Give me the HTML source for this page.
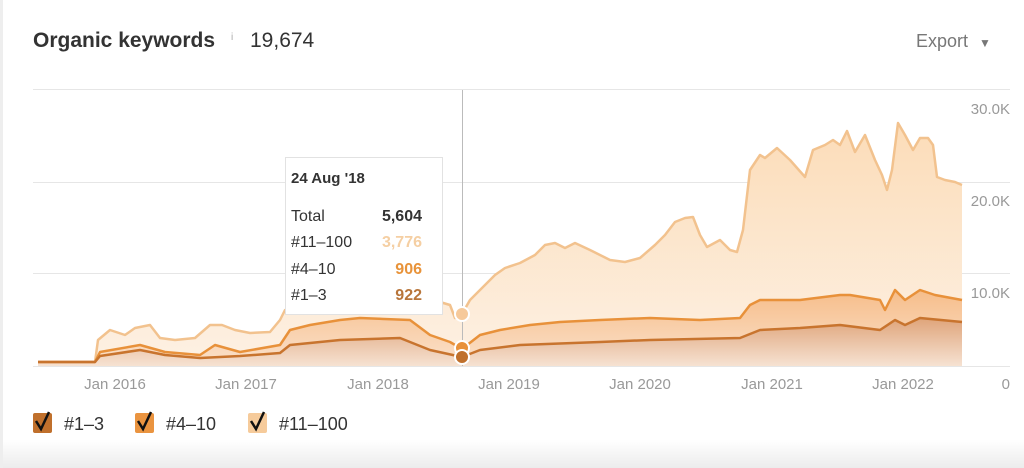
<!DOCTYPE html>
<html><head><meta charset="utf-8"><style>
body{margin:0;width:1024px;height:468px;background:#fff;font-family:"Liberation Sans",sans-serif;overflow:hidden;position:relative}
.t{position:absolute;white-space:nowrap}
</style></head><body>
<div style="position:absolute;left:0;top:440px;width:1024px;height:28px;background:linear-gradient(#fff,#ececec)"></div>
<div style="position:absolute;left:0;top:0;width:3px;height:468px;background:#eee"></div>
<div class="t" style="left:33px;top:29px;font-size:21px;font-weight:bold;color:#333">Organic keywords</div>
<div class="t" style="left:231px;top:32px;font-size:10px;color:#aaa">i</div>
<div class="t" style="left:250px;top:29px;font-size:21px;color:#333">19,674</div>
<div class="t" style="left:916px;top:31px;font-size:18px;color:#777">Export <span style="font-size:12px;margin-left:6px">▼</span></div>
<svg width="1024" height="468" style="position:absolute;left:0;top:0">
<defs>
<linearGradient id="g1" x1="0" y1="0" x2="0" y2="1"><stop offset="0" stop-color="#fcdcb8"/><stop offset="1" stop-color="#fdf1e4"/></linearGradient>
<linearGradient id="g2" x1="0" y1="0" x2="0" y2="1"><stop offset="0" stop-color="#f6bd8a"/><stop offset="1" stop-color="#fbe2cc"/></linearGradient>
<linearGradient id="g3" x1="0" y1="0" x2="0" y2="1"><stop offset="0" stop-color="#dfa47a"/><stop offset="1" stop-color="#f6e2d2"/></linearGradient>
</defs>
<g stroke="#e6e6e6" stroke-width="1">
<line x1="33" y1="89.5" x2="1010" y2="89.5"/><line x1="33" y1="182.5" x2="1010" y2="182.5"/><line x1="33" y1="273.5" x2="1010" y2="273.5"/><line x1="33" y1="366.5" x2="1010" y2="366.5"/>
</g>
<path id="p1" fill="url(#g1)" d="M38,362 L95,362 98,340 110,330 125,335 135,328 150,325 160,338 175,340 195,338 210,325 222,325 235,330 250,333 270,332 280,320 285,310 300,305 340,302 400,300 440,302 450,305 455,318 462,314 470,300 480,290 495,275 505,268 520,263 535,255 545,245 555,243 565,248 575,243 590,250 610,260 625,262 640,258 655,245 665,235 675,222 685,218 693,217 700,235 707,247 720,240 730,250 737,252 743,230 750,170 760,155 765,158 777,148 790,160 805,177 813,150 825,145 833,140 840,145 847,131 855,152 865,135 875,160 882,175 887,190 892,170 898,123 905,135 913,150 920,138 928,138 933,145 937,177 945,180 955,182 962,185 L962,366 L38,366Z"/>
<path fill="url(#g2)" d="M38,362 L95,362 100,352 140,345 165,352 200,355 215,345 240,352 280,345 290,330 310,325 340,320 360,318 410,320 430,335 450,342 462,349 480,335 500,330 530,325 560,322 600,320 650,318 700,320 740,318 750,305 760,300 800,300 840,295 850,295 880,300 885,310 895,290 905,300 920,290 935,295 962,300 L962,366 L38,366Z"/>
<path fill="url(#g3)" d="M38,362 L95,362 100,356 140,350 165,355 200,358 240,356 280,353 290,345 340,340 400,338 430,350 462,357 480,350 520,345 600,342 650,340 740,338 760,330 800,328 840,325 880,330 895,320 905,325 920,318 962,322 L962,366 L38,366Z"/>
<g fill="none" stroke-width="2.5" stroke-linejoin="round">
<path stroke="#f2c28e" d="M38,362 L95,362 98,340 110,330 125,335 135,328 150,325 160,338 175,340 195,338 210,325 222,325 235,330 250,333 270,332 280,320 285,310 300,305 340,302 400,300 440,302 450,305 455,318 462,314 470,300 480,290 495,275 505,268 520,263 535,255 545,245 555,243 565,248 575,243 590,250 610,260 625,262 640,258 655,245 665,235 675,222 685,218 693,217 700,235 707,247 720,240 730,250 737,252 743,230 750,170 760,155 765,158 777,148 790,160 805,177 813,150 825,145 833,140 840,145 847,131 855,152 865,135 875,160 882,175 887,190 892,170 898,123 905,135 913,150 920,138 928,138 933,145 937,177 945,180 955,182 962,185"/>
<path stroke="#e8913a" d="M38,362 L95,362 100,352 140,345 165,352 200,355 215,345 240,352 280,345 290,330 310,325 340,320 360,318 410,320 430,335 450,342 462,349 480,335 500,330 530,325 560,322 600,320 650,318 700,320 740,318 750,305 760,300 800,300 840,295 850,295 880,300 885,310 895,290 905,300 920,290 935,295 962,300"/>
<path stroke="#c8742e" d="M38,362 L95,362 100,356 140,350 165,355 200,358 240,356 280,353 290,345 340,340 400,338 430,350 462,357 480,350 520,345 600,342 650,340 740,338 760,330 800,328 840,325 880,330 895,320 905,325 920,318 962,322"/>
</g>
<line x1="462.5" y1="90" x2="462.5" y2="366" stroke="#bbb"/>
<circle cx="462" cy="314" r="7" fill="#f6c99a" stroke="#fff" stroke-width="2"/>
<circle cx="462" cy="348" r="7" fill="#e8913a" stroke="#fff" stroke-width="2"/>
<circle cx="462" cy="357" r="7" fill="#c0702c" stroke="#fff" stroke-width="2"/>
<rect x="285.5" y="157.5" width="157" height="157" fill="#fff" stroke="#e2e2e2"/>
<g font-family="Liberation Sans,sans-serif" font-size="15" fill="#999">
<text x="1010" y="114" text-anchor="end">30.0K</text><text x="1010" y="206" text-anchor="end">20.0K</text><text x="1010" y="298" text-anchor="end">10.0K</text><text x="1010" y="389" text-anchor="end">0</text>
<text x="115" y="389" text-anchor="middle">Jan 2016</text><text x="246" y="389" text-anchor="middle">Jan 2017</text><text x="378" y="389" text-anchor="middle">Jan 2018</text><text x="509" y="389" text-anchor="middle">Jan 2019</text><text x="640" y="389" text-anchor="middle">Jan 2020</text><text x="772" y="389" text-anchor="middle">Jan 2021</text><text x="903" y="389" text-anchor="middle">Jan 2022</text>
</g>
<g font-family="Liberation Sans,sans-serif" font-size="16">
<text x="291" y="183" font-weight="bold" font-size="15" fill="#333">24 Aug '18</text>
<text x="291" y="221" fill="#333">Total</text><text x="422" y="221" text-anchor="end" font-weight="bold" fill="#333">5,604</text>
<text x="291" y="247" fill="#333">#11–100</text><text x="422" y="247" text-anchor="end" font-weight="bold" fill="#f5cfa3">3,776</text>
<text x="291" y="274" fill="#333">#4–10</text><text x="422" y="274" text-anchor="end" font-weight="bold" fill="#e8933a">906</text>
<text x="291" y="300" fill="#333">#1–3</text><text x="422" y="300" text-anchor="end" font-weight="bold" fill="#b8753a">922</text>
</g>
<g font-family="Liberation Sans,sans-serif" font-size="18" fill="#333">
<rect x="33" y="413" width="19" height="20" rx="2" fill="#c0702c"/><path d="M36,421 l5,8 l8,-17" fill="none" stroke="#111" stroke-width="2.5"/><text x="64" y="430">#1–3</text>
<rect x="135" y="413" width="19" height="20" rx="2" fill="#ea9440"/><path d="M138,421 l5,8 l8,-17" fill="none" stroke="#111" stroke-width="2.5"/><text x="166" y="430">#4–10</text>
<rect x="248" y="413" width="19" height="20" rx="2" fill="#f6cb9b"/><path d="M251,421 l5,8 l8,-17" fill="none" stroke="#111" stroke-width="2.5"/><text x="279" y="430">#11–100</text>
</g>
</svg>
</body></html>
